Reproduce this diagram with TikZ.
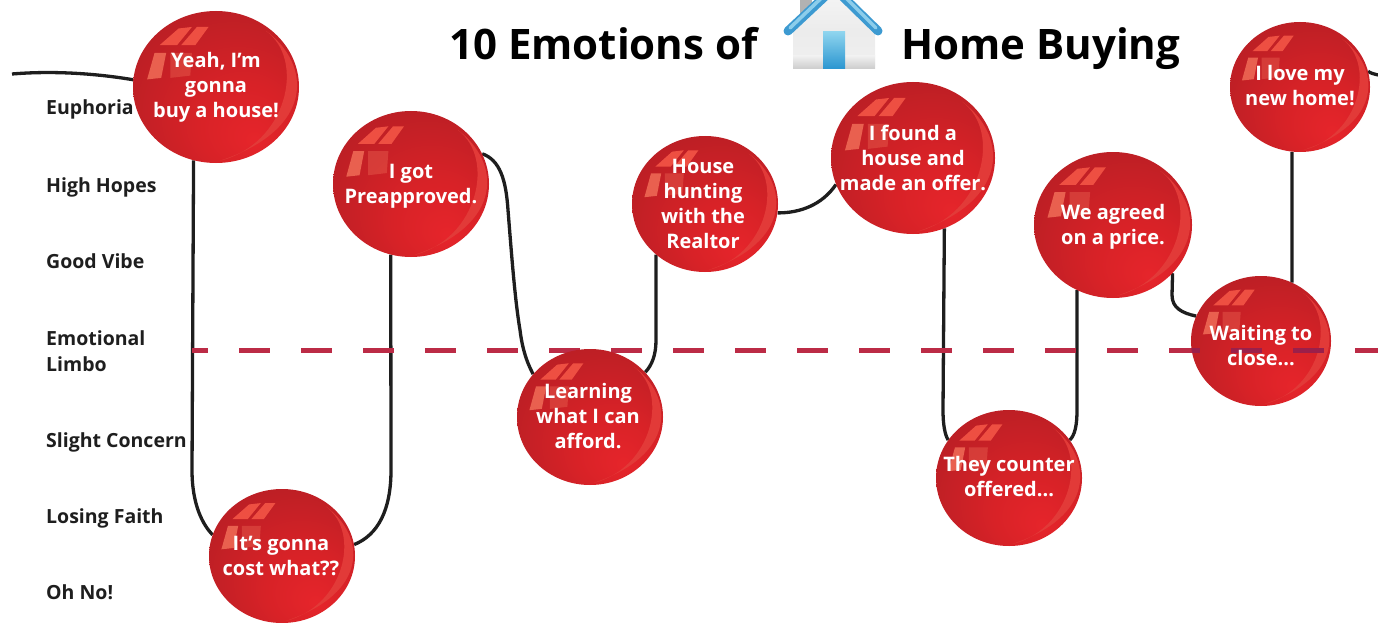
\documentclass[tikz,border=0pt]{standalone}
\usepackage{fontspec}
\setmainfont{Open Sans}
\usetikzlibrary{shapes.geometric,backgrounds}
\definecolor{bubA}{HTML}{E6252B}
\definecolor{bubB}{HTML}{D82227}
\definecolor{bubC}{HTML}{BD1F25}
\definecolor{bubD}{HTML}{A81C22}
\pgfdeclareradialshading{bub}{\pgfpoint{12bp}{-18bp}}{color(0bp)=(bubA);color(14bp)=(bubB);color(32bp)=(bubC);color(50bp)=(bubD)}
\definecolor{pane}{HTML}{EE4F42}
\definecolor{panelt}{HTML}{E9604F}
\definecolor{cres}{HTML}{E23A38}
\definecolor{ink}{HTML}{1E1E1E}
\definecolor{limbo}{HTML}{BC2B46}
\definecolor{limbod}{HTML}{9B1F4A}
\definecolor{roofa}{HTML}{3D9AD1}
\definecolor{roofb}{HTML}{8CCDEB}
\definecolor{doora}{HTML}{8ED4EE}
\definecolor{doorb}{HTML}{2A95D0}
\tikzset{
 bubble/.style={ellipse,inner sep=0pt,shading=bub,draw=none},
 bubtext/.style={text=white,font=\bfseries\fontsize{20}{25}\selectfont,align=center,inner sep=0pt},
 level/.style={text=ink,font=\bfseries\fontsize{19.5}{25.5}\selectfont,align=left,inner sep=0pt},
 titletext/.style={text=black,font=\bfseries\fontsize{42}{50}\selectfont,inner sep=0pt,anchor=base west},
 link/.style={draw=ink,line width=3.3pt},
 limbodash/.style={line width=5pt,dash pattern=on 31pt off 31pt,dash phase=15pt},
}
\newcommand{\mybubble}[5]{%
 \node[bubble,minimum width=#4*2pt,minimum height=#5*2pt] (#1) at (#2,#3) {};
 \begin{scope}[shift={(#2,#3)},xscale=#4,yscale=#5]
  \fill[pane] (-.68,-.55)--(-.45,-.77)--(-.29,-.79)--(-.47,-.55)--cycle;
  \fill[pane] (-.42,-.55)--(-.23,-.79)--(-.09,-.79)--(-.25,-.55)--cycle;
  \fill[panelt] (-.74,-.45)--(-.6,-.45)--(-.66,-.12)--(-.83,-.10)--cycle;
  \fill[panelt,opacity=.45] (-.55,-.45)--(-.29,-.45)--(-.31,-.15)--(-.55,-.12)--cycle;
  \fill[cres] (.60,-.74) .. controls (1.15,-.30) and (1.2,.55) .. (.05,.97)
      .. controls (.85,.75) and (1.09,-.35) .. (.60,-.74)--cycle;
 \end{scope}}
\begin{document}
\begin{tikzpicture}[x=1pt,y=-1pt]
\useasboundingbox (0,0) rectangle (1378,623);
% house icon
\begin{scope}
\clip (0,0) rectangle (1378,623);
\fill[gray!60] (800,-2) rectangle (812,22);
\shade[top color=gray!8,bottom color=gray!12,middle color=gray!15] (793,30)--(834,-8)--(875,30)--(875,66) to[out=-90,in=0] (871,69)--(797,69) to[out=180,in=-90] (793,66)--cycle;
\fill[bottom color=gray!40,top color=gray!12] (793,56) rectangle (875,69);
\shade[top color=doora,bottom color=doorb] (823,32) rectangle (845,69);
\draw[line width=9pt,line cap=round,line join=round,color=roofa] (788,31)--(834,-12)--(878,31);
\draw[line width=3.5pt,line cap=round,line join=round,color=roofb] (790,28)--(834,-14)--(876,28);
\end{scope}
% title
\node[titletext] (t1) at (449,60) {10 Emotions of};
\node[titletext] (t2) at (901,60) {Home Buying};
% levels
\node[level,anchor=base west] (l1) at (46,115) {Euphoria};
\node[level,anchor=base west] (l2) at (46,192) {High Hopes};
\node[level,anchor=base west] (l3) at (46,268) {Good Vibe};
\node[level,anchor=west] (l4) at (46,351) {Emotional\\Limbo};
\node[level,anchor=base west] (l5) at (46,447) {Slight Concern};
\node[level,anchor=base west] (l6) at (46,523) {Losing Faith};
\node[level,anchor=base west] (l7) at (46,599) {Oh No!};
% limbo line
\coordinate (ls) at (192,350);
\coordinate (le) at (1378,350);
\draw[limbo,limbodash] (ls)--(le);
% bubbles
\mybubble{yeah}{216}{87}{83}{76}
\mybubble{got}{411}{184}{78}{73}
\mybubble{hunt}{705}{204}{73}{68}
\mybubble{found}{913}{158}{82}{76}
\mybubble{agreed}{1113}{225}{79}{73}
\mybubble{love}{1300}{87}{70}{65}
\mybubble{learn}{590}{417}{73}{68}
\mybubble{counter}{1009}{478}{73}{68}
\mybubble{cost}{282}{556}{73}{67}
\mybubble{waiting}{1261}{341}{70}{65}
% the dashes show through the Waiting bubble, darker
\begin{scope}
\clip (1261,341) ellipse [x radius=70,y radius=65];
\draw[limbod,limbodash] (ls)--(le);
\end{scope}
% connectors
\coordinate (cs) at (12,74);
\coordinate (ce) at (1378,75);
\begin{pgfonlayer}{background}
\draw[link] (cs) .. controls (60,70) and (105,75) .. (yeah.175);
\draw[link] (yeah.-107) -- (192,470) .. controls (192,505) and (203,525) .. (cost.163);
\draw[link] (cost.9) .. controls (378,535) and (391,510) .. (391,470) -- (got.-106);
\draw[link] (got.23) .. controls (500,160) and (506,180) .. (508,210) .. controls (512,260) and (515,300) .. (520,330) .. controls (523,355) and (530,368) .. (learn.143);
\draw[link] (learn.39) .. controls (652,365) and (656,355) .. (656,340) -- (hunt.-134);
\draw[link] (hunt.-7) .. controls (800,213) and (822,205) .. (found.199);
\draw[link] (found.-66) -- (943,410) .. controls (943,425) and (945,435) .. (counter.148);
\draw[link] (counter.32) .. controls (1075,435) and (1077,425) .. (1077,410) -- (agreed.-119);
\draw[link] (agreed.-39) -- (1172,295) .. controls (1172,308) and (1182,313) .. (waiting.159);
\draw[link] (waiting.62) -- (love.-97);
\draw[link] (love.13) .. controls (1370,73) and (1374,74) .. (ce);
\end{pgfonlayer}
% bubble text
\node[bubtext] (tyeah) at (216,87) {Yeah, I’m\\gonna\\buy a house!};
\node[bubtext] (tgot) at (411,186.5) {I got\\Preapproved.};
\node[bubtext] (thunt) at (703,203.5) {House\\hunting\\with the\\Realtor};
\node[bubtext] (tfound) at (913,157.5) {I found a\\house and\\made an offer.};
\node[bubtext] (tagreed) at (1113,227) {We agreed\\on a price.};
\node[bubtext] (tlove) at (1300,86) {I love my\\new home!};
\node[bubtext] (twaiting) at (1261,346) {Waiting to\\close...};
\node[bubtext] (tlearn) at (588,416) {Learning\\what I can\\afford.};
\node[bubtext] (tcounter) at (1009,477) {They counter\\offered...};
\node[bubtext] (tcost) at (281,556) {It’s gonna\\cost what??};
\end{tikzpicture}
\end{document}
